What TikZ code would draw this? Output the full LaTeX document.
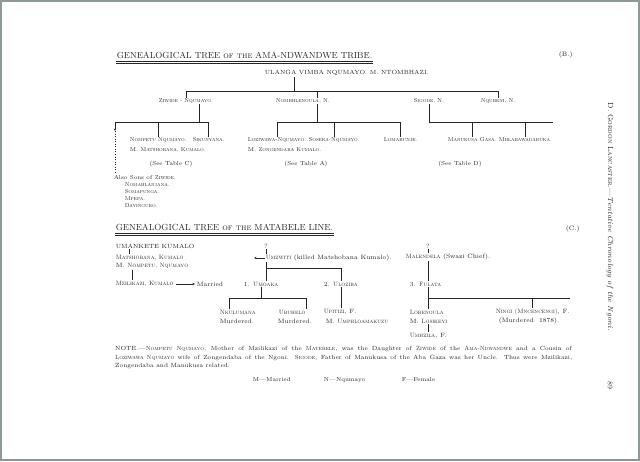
\documentclass[tikz,border=0pt]{standalone}
\usepackage{tikz}
\usetikzlibrary{arrows.meta,calc}
\definecolor{ink}{HTML}{262626}
\definecolor{frame}{HTML}{8E9898}

\begin{document}
\begin{tikzpicture}[x=1pt,y=-1pt,text=ink,
  kin/.style={font=\fontsize{5.8}{6.6}\selectfont,inner sep=.6pt,anchor=west},
  caps/.style={font=\fontsize{6}{7}\selectfont,inner sep=.6pt,anchor=west},
  heading/.style={font=\fontsize{8.8}{10}\selectfont,inner sep=.6pt,anchor=west},
  rel/.style={draw=ink,line width=.55pt},
  arr/.style={-{Stealth[length=2.6pt,width=2.4pt]},draw=ink,line width=.5pt}]
\path[use as bounding box] (0,0) rectangle (640,461);
\fill[white] (0,0) rectangle (640,461);
\draw[frame,line width=2pt] (1,1) rectangle (639,460);

% Table B: the Ama-Ndwandwe tribe, from Ulanga down to the grandsons.
\node[heading] (t1) at (116,55) {GENEALOGICAL TREE \textsc{of the} AMA-NDWANDWE TRIBE.};
\draw[rel,line width=.8pt] ([yshift=-3pt]t1.base west) -- ([yshift=-3pt]t1.base east);
\draw[rel,line width=.4pt] ([yshift=-5pt]t1.base west) -- ([yshift=-5pt]t1.base east);
\node[kin,font=\fontsize{6.4}{8}\selectfont] (tabB) at (558,55) {(B.)};
\node[caps] (ulanga) at (264,73) {ULANGA VIMBA NQUMAYO. M. NTOMBHAZI.};

\node[kin] (ziwide) at (158,101) {\textsc{Ziwide - Nqumayo.}};
\node[kin] (nombh) at (275,101) {\textsc{Nombhlengula, N.}};
\node[kin] (sigode) at (413,101) {\textsc{Sigode, N.}};
\node[kin] (nqubeni) at (480,101) {\textsc{Nqubeni, N.}};

\foreach \n/\x/\t in {nompetu/129/Nompetu Nqumayo.,sikunyana/192/Sikunyana.,
  loziwawa/247/Loziwawa-Nqumayo.,sosera/308/Sosera-Nqumayo.,lomabunje/383/Lomabunje.,
  manukusa/447/Manukusa\ Gasa.,mhlaba/498/Mhlabawadabuka.}
  \node[kin] (\n) at (\x,140) {\textsc{\t}};
\node[kin] (matshobana) at (129,150) {M. \textsc{Matshobana, Kumalo.}};
\node[kin] (zongendaba) at (247,150) {M. \textsc{Zongendaba Kumalo.}};
\foreach \n/\x/\t in {seeC/171/C,seeA/306/A,seeD/460/D}
  \node[kin,anchor=center] (\n) at (\x,164) {(See Table \t)};

\node[kin] (alsosons) at (113,177) {Also Sons of \textsc{Ziwide}.};
\foreach \n/\y/\t in {nomahlanjana/185/Nomahlanjana.,somapunga/192/Somapunga.,
  mpepa/199/Mpepa.,dayingubo/206/Dayingubo.}
  \node[kin] (\n) at (124,\y) {\textsc{\t}};

\coordinate (uDrop) at (294,91);
\coordinate (nbTop) at ([xshift=15pt]nombh.north);
\draw[rel] (uDrop |- ulanga.south) -- (uDrop);
\draw[rel] (ziwide.north) -- (ziwide.north |- uDrop) -- (nqubeni.north |- uDrop) -- (nqubeni.north);
\draw[rel] (nbTop |- uDrop) -- (nbTop);

\coordinate (bar2) at (0,122);
\coordinate (zDrop) at ([xshift=13pt]ziwide.south);
\coordinate (zBar) at (115,122);
\draw[rel] (zDrop) -- (zDrop |- bar2);
\draw[rel] (sikunyana.north) -- (sikunyana.north |- bar2) -- (zBar);
\draw[rel] (nompetu.north) -- (nompetu.north |- bar2);
\draw[arr] (zBar) -- ++(0,9) coordinate (zArrow);
\draw[rel,dotted] (zArrow) -- (zArrow |- alsosons.north);

\coordinate (nbDrop) at (nbTop |- nombh.south);
\draw[rel] (nbDrop) -- (nbDrop |- bar2);
\draw[rel] (loziwawa.north) -- (loziwawa.north |- bar2) -- (lomabunje.north |- bar2) -- (lomabunje.north);
\draw[rel] (sosera.north) -- (sosera.north |- bar2);

\draw[rel] (sigode.south) -- (sigode.south |- bar2) -- (mhlaba.north east |- bar2);
\draw[rel] (manukusa.north) -- (manukusa.north |- bar2);
\draw[rel] (mhlaba.north) -- (mhlaba.north |- bar2);

% Table C: the Matabele line, set a little larger.
\begin{scope}[kin/.append style={font=\fontsize{6.2}{7}\selectfont}]
\node[heading] (t2) at (115,227) {GENEALOGICAL TREE \textsc{of the} MATABELE LINE.};
\draw[rel,line width=.8pt] ([yshift=-3pt]t2.base west) -- ([yshift=-3pt]t2.base east);
\draw[rel,line width=.4pt] ([yshift=-5pt]t2.base west) -- ([yshift=-5pt]t2.base east);
\node[kin,font=\fontsize{6.4}{8}\selectfont] (tabC) at (565,229) {(C.)};

\node[caps] (umankete) at (115,246) {UMANKETE KUMALO};
\node[kin] (matshobana2) at (115,258) {\textsc{Matshobana, Kumalo}};
\node[kin] (nompetu2) at (115,266) {M. \textsc{Nompetu, Nqumayo}};
\node[kin] (mzilikazi) at (115,284) {\textsc{Mzilikazi, Kumalo}};
\node[kin] (married) at (196,284) {Married};
\coordinate (kx) at ([xshift=14pt]umankete.south west);
\coordinate (mx) at ([xshift=17pt]nompetu2.south west);
\draw[rel] (kx) -- (kx |- matshobana2.north);
\draw[rel] (mx) -- (mx |- mzilikazi.north);
\draw[arr,shorten <=2pt,shorten >=1pt] (mzilikazi) -- (married);

\node[kin,anchor=center] (q1) at (266,246) {?};
\node[kin] (umzwiti) at (265,258) {\textsc{Umzwiti} (killed Matshobana Kumalo).};
\coordinate (killArrow) at (254,258);
\draw[arr] (umzwiti.west) -- (killArrow);
\draw[rel,line width=.35pt] (q1.south) -- (q1 |- umzwiti.north);

\node[kin] (umoaka) at (243,284) {1. \textsc{Umoaka}};
\node[kin] (uloziba) at (323,284) {2. \textsc{Uloziba}};
\coordinate (bar3) at (0,268);
\draw[rel] (q1 |- umzwiti.south) -- (q1 |- umoaka.north);
\draw[rel] (q1 |- bar3) -- (uloziba.north |- bar3) -- (uloziba.north);

\node[kin] (nkulumana) at (219,312) {\textsc{Nkulumana}};
\node[kin] (murdered1) at (219,321) {Murdered.};
\node[kin] (ubuhelo) at (278,312) {\textsc{Ubuhelo}};
\node[kin] (murdered2) at (277,321) {Murdered.};
\node[kin] (upitizi) at (323,312) {\textsc{Upitizi}, F.};
\node[kin] (umphlo) at (325,321) {M. \textsc{Umphloamakuzu}};
\coordinate (bar4) at (0,298);
\coordinate (nkT) at ([xshift=10pt]nkulumana.north west);
\draw[rel] (umoaka.south) -- (umoaka.south |- bar4);
\draw[rel] (nkT) -- (nkT |- bar4) -- (ubuhelo.north east |- bar4) -- (ubuhelo.north east);
\draw[rel] (uloziba.south) -- (uloziba.south |- upitizi.north);

\node[kin,anchor=center] (q2) at (428,246) {?};
\node[kin] (malendela) at (405,257) {\textsc{Malendela} (Swazi Chief).};
\node[kin] (fulata) at (409,284) {3. \textsc{Fulata}};
\node[kin] (lobengula) at (409,312) {\textsc{Lobengula}};
\node[kin] (losikeyi) at (409,321) {M. \textsc{Losikeyi}};
\node[kin] (umhzila) at (409,336) {\textsc{Umhzila}, F.};
\node[kin] (ningi) at (495,312) {\textsc{Ningi (Mncencengi)}, F.};
\node[kin] (murdered3) at (498,321) {(Murdered\ \ 1878).};
\draw[rel,line width=.35pt] (q2.south) -- (q2 |- malendela.north);
\draw[rel] (q2 |- malendela.south) -- (q2 |- fulata.north);
\draw[rel] (q2 |- fulata.south) -- (q2 |- lobengula.north);
\draw[rel] (q2 |- bar4) -- (ningi.north east |- bar4);
\draw[rel] (ningi.north |- bar4) -- (ningi.north);
\draw[rel] (q2 |- losikeyi.south) -- (q2 |- umhzila.north);
\end{scope}

\node[kin,anchor=north west,text width=457pt,align=justify,font=\fontsize{6}{8.6}\selectfont,inner sep=0pt] (note) at (115,346)
  {NOTE.---\textsc{Nompetu Nqumayo}, Mother of Mzilikazi of the \textsc{Matebele}, was the Daughter of \textsc{Ziwide} of the \textsc{Ama-Ndwandwe} and a Cousin of\linebreak
  \textsc{Loziwawa Nqumayo} wife of Zongendaba of the Ngoni. \textsc{Sigode}, Father of Manukusa of the Aba Gaza was her Uncle. Thus were Mzilikazi,\linebreak
  Zongendaba and Manukusa related.};
\foreach \n/\x/\t in {legM/252/M---Married,legN/323/N---Nqumayo,legF/401/F---Female}
  \node[kin] (\n) at (\x,380) {\t};

% Running head and folio, set sideways in the outer margin.
\node[rotate=-90,font=\fontsize{7.4}{9}\selectfont] (running) at (610,217) {D. \textsc{Gordon Lancaster}.---\textit{Tentative Chronology of the Ngoni.}};
\node[rotate=-90,font=\fontsize{7}{8}\selectfont] (folio) at (610,385) {89};
\end{tikzpicture}
\end{document}
